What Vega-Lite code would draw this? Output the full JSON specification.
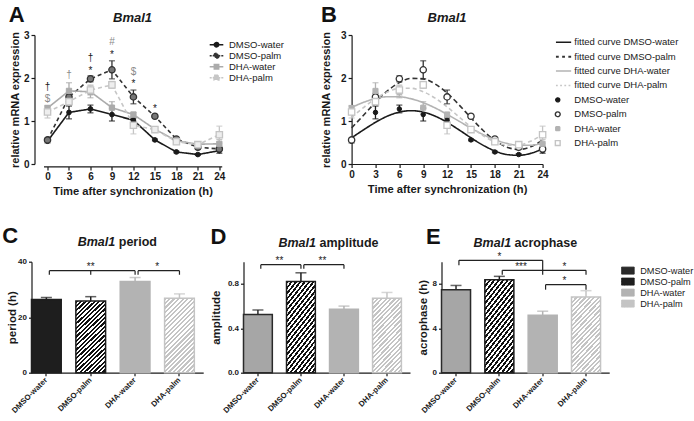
{
"$schema": "https://vega.github.io/schema/vega-lite/v6.json",
"background": "white",
"padding": {"left": 1.5, "top": 4, "right": 0, "bottom": 0},
"params": [
 {"name": "hatchDark", "value": {"gradient": "linear", "x1": 0, "y1": 0, "x2": 0.4828, "y2": 1.2069, "stops": [
{"offset":0,"color":"#111111"},{"offset":0.0217,"color":"#111111"},{"offset":0.0217,"color":"#ffffff"},{"offset":0.0435,"color":"#ffffff"},
{"offset":0.0435,"color":"#111111"},{"offset":0.0652,"color":"#111111"},{"offset":0.0652,"color":"#ffffff"},{"offset":0.087,"color":"#ffffff"},
{"offset":0.087,"color":"#111111"},{"offset":0.1087,"color":"#111111"},{"offset":0.1087,"color":"#ffffff"},{"offset":0.1304,"color":"#ffffff"},
{"offset":0.1304,"color":"#111111"},{"offset":0.1522,"color":"#111111"},{"offset":0.1522,"color":"#ffffff"},{"offset":0.1739,"color":"#ffffff"},
{"offset":0.1739,"color":"#111111"},{"offset":0.1957,"color":"#111111"},{"offset":0.1957,"color":"#ffffff"},{"offset":0.2174,"color":"#ffffff"},
{"offset":0.2174,"color":"#111111"},{"offset":0.2391,"color":"#111111"},{"offset":0.2391,"color":"#ffffff"},{"offset":0.2609,"color":"#ffffff"},
{"offset":0.2609,"color":"#111111"},{"offset":0.2826,"color":"#111111"},{"offset":0.2826,"color":"#ffffff"},{"offset":0.3043,"color":"#ffffff"},
{"offset":0.3043,"color":"#111111"},{"offset":0.3261,"color":"#111111"},{"offset":0.3261,"color":"#ffffff"},{"offset":0.3478,"color":"#ffffff"},
{"offset":0.3478,"color":"#111111"},{"offset":0.3696,"color":"#111111"},{"offset":0.3696,"color":"#ffffff"},{"offset":0.3913,"color":"#ffffff"},
{"offset":0.3913,"color":"#111111"},{"offset":0.413,"color":"#111111"},{"offset":0.413,"color":"#ffffff"},{"offset":0.4348,"color":"#ffffff"},
{"offset":0.4348,"color":"#111111"},{"offset":0.4565,"color":"#111111"},{"offset":0.4565,"color":"#ffffff"},{"offset":0.4783,"color":"#ffffff"},
{"offset":0.4783,"color":"#111111"},{"offset":0.5,"color":"#111111"},{"offset":0.5,"color":"#ffffff"},{"offset":0.5217,"color":"#ffffff"},
{"offset":0.5217,"color":"#111111"},{"offset":0.5435,"color":"#111111"},{"offset":0.5435,"color":"#ffffff"},{"offset":0.5652,"color":"#ffffff"},
{"offset":0.5652,"color":"#111111"},{"offset":0.587,"color":"#111111"},{"offset":0.587,"color":"#ffffff"},{"offset":0.6087,"color":"#ffffff"},
{"offset":0.6087,"color":"#111111"},{"offset":0.6304,"color":"#111111"},{"offset":0.6304,"color":"#ffffff"},{"offset":0.6522,"color":"#ffffff"},
{"offset":0.6522,"color":"#111111"},{"offset":0.6739,"color":"#111111"},{"offset":0.6739,"color":"#ffffff"},{"offset":0.6957,"color":"#ffffff"},
{"offset":0.6957,"color":"#111111"},{"offset":0.7174,"color":"#111111"},{"offset":0.7174,"color":"#ffffff"},{"offset":0.7391,"color":"#ffffff"},
{"offset":0.7391,"color":"#111111"},{"offset":0.7609,"color":"#111111"},{"offset":0.7609,"color":"#ffffff"},{"offset":0.7826,"color":"#ffffff"},
{"offset":0.7826,"color":"#111111"},{"offset":0.8043,"color":"#111111"},{"offset":0.8043,"color":"#ffffff"},{"offset":0.8261,"color":"#ffffff"},
{"offset":0.8261,"color":"#111111"},{"offset":0.8478,"color":"#111111"},{"offset":0.8478,"color":"#ffffff"},{"offset":0.8696,"color":"#ffffff"},
{"offset":0.8696,"color":"#111111"},{"offset":0.8913,"color":"#111111"},{"offset":0.8913,"color":"#ffffff"},{"offset":0.913,"color":"#ffffff"},
{"offset":0.913,"color":"#111111"},{"offset":0.9348,"color":"#111111"},{"offset":0.9348,"color":"#ffffff"},{"offset":0.9565,"color":"#ffffff"},
{"offset":0.9565,"color":"#111111"},{"offset":0.9783,"color":"#111111"},{"offset":0.9783,"color":"#ffffff"},{"offset":1,"color":"#ffffff"}]}},
 {"name": "hatchLight", "value": {"gradient": "linear", "x1": 0, "y1": 0, "x2": 0.4828, "y2": 1.2069, "stops": [
{"offset":0,"color":"#c4c4c4"},{"offset":0.0217,"color":"#c4c4c4"},{"offset":0.0217,"color":"#ffffff"},{"offset":0.0435,"color":"#ffffff"},
{"offset":0.0435,"color":"#c4c4c4"},{"offset":0.0652,"color":"#c4c4c4"},{"offset":0.0652,"color":"#ffffff"},{"offset":0.087,"color":"#ffffff"},
{"offset":0.087,"color":"#c4c4c4"},{"offset":0.1087,"color":"#c4c4c4"},{"offset":0.1087,"color":"#ffffff"},{"offset":0.1304,"color":"#ffffff"},
{"offset":0.1304,"color":"#c4c4c4"},{"offset":0.1522,"color":"#c4c4c4"},{"offset":0.1522,"color":"#ffffff"},{"offset":0.1739,"color":"#ffffff"},
{"offset":0.1739,"color":"#c4c4c4"},{"offset":0.1957,"color":"#c4c4c4"},{"offset":0.1957,"color":"#ffffff"},{"offset":0.2174,"color":"#ffffff"},
{"offset":0.2174,"color":"#c4c4c4"},{"offset":0.2391,"color":"#c4c4c4"},{"offset":0.2391,"color":"#ffffff"},{"offset":0.2609,"color":"#ffffff"},
{"offset":0.2609,"color":"#c4c4c4"},{"offset":0.2826,"color":"#c4c4c4"},{"offset":0.2826,"color":"#ffffff"},{"offset":0.3043,"color":"#ffffff"},
{"offset":0.3043,"color":"#c4c4c4"},{"offset":0.3261,"color":"#c4c4c4"},{"offset":0.3261,"color":"#ffffff"},{"offset":0.3478,"color":"#ffffff"},
{"offset":0.3478,"color":"#c4c4c4"},{"offset":0.3696,"color":"#c4c4c4"},{"offset":0.3696,"color":"#ffffff"},{"offset":0.3913,"color":"#ffffff"},
{"offset":0.3913,"color":"#c4c4c4"},{"offset":0.413,"color":"#c4c4c4"},{"offset":0.413,"color":"#ffffff"},{"offset":0.4348,"color":"#ffffff"},
{"offset":0.4348,"color":"#c4c4c4"},{"offset":0.4565,"color":"#c4c4c4"},{"offset":0.4565,"color":"#ffffff"},{"offset":0.4783,"color":"#ffffff"},
{"offset":0.4783,"color":"#c4c4c4"},{"offset":0.5,"color":"#c4c4c4"},{"offset":0.5,"color":"#ffffff"},{"offset":0.5217,"color":"#ffffff"},
{"offset":0.5217,"color":"#c4c4c4"},{"offset":0.5435,"color":"#c4c4c4"},{"offset":0.5435,"color":"#ffffff"},{"offset":0.5652,"color":"#ffffff"},
{"offset":0.5652,"color":"#c4c4c4"},{"offset":0.587,"color":"#c4c4c4"},{"offset":0.587,"color":"#ffffff"},{"offset":0.6087,"color":"#ffffff"},
{"offset":0.6087,"color":"#c4c4c4"},{"offset":0.6304,"color":"#c4c4c4"},{"offset":0.6304,"color":"#ffffff"},{"offset":0.6522,"color":"#ffffff"},
{"offset":0.6522,"color":"#c4c4c4"},{"offset":0.6739,"color":"#c4c4c4"},{"offset":0.6739,"color":"#ffffff"},{"offset":0.6957,"color":"#ffffff"},
{"offset":0.6957,"color":"#c4c4c4"},{"offset":0.7174,"color":"#c4c4c4"},{"offset":0.7174,"color":"#ffffff"},{"offset":0.7391,"color":"#ffffff"},
{"offset":0.7391,"color":"#c4c4c4"},{"offset":0.7609,"color":"#c4c4c4"},{"offset":0.7609,"color":"#ffffff"},{"offset":0.7826,"color":"#ffffff"},
{"offset":0.7826,"color":"#c4c4c4"},{"offset":0.8043,"color":"#c4c4c4"},{"offset":0.8043,"color":"#ffffff"},{"offset":0.8261,"color":"#ffffff"},
{"offset":0.8261,"color":"#c4c4c4"},{"offset":0.8478,"color":"#c4c4c4"},{"offset":0.8478,"color":"#ffffff"},{"offset":0.8696,"color":"#ffffff"},
{"offset":0.8696,"color":"#c4c4c4"},{"offset":0.8913,"color":"#c4c4c4"},{"offset":0.8913,"color":"#ffffff"},{"offset":0.913,"color":"#ffffff"},
{"offset":0.913,"color":"#c4c4c4"},{"offset":0.9348,"color":"#c4c4c4"},{"offset":0.9348,"color":"#ffffff"},{"offset":0.9565,"color":"#ffffff"},
{"offset":0.9565,"color":"#c4c4c4"},{"offset":0.9783,"color":"#c4c4c4"},{"offset":0.9783,"color":"#ffffff"},{"offset":1,"color":"#ffffff"}]}}
],
"config": {
 "view": {"stroke": null},
 "font": "Liberation Sans",
 "axis": {"grid": false, "domainColor": "#1a1a1a", "tickColor": "#1a1a1a", "labelColor": "#1a1a1a", "titleColor": "#1a1a1a", "labelFont": "Liberation Sans", "titleFont": "Liberation Sans", "labelFontWeight": "bold", "titleFontWeight": "bold", "domainWidth": 1.2, "tickWidth": 1.2, "tickSize": 3.5, "labelFontSize": 10, "titleFontSize": 11.2},
 "legend": {"labelFont": "Liberation Sans", "labelFontSize": 9.5, "labelColor": "#1a1a1a", "padding": 0},
 "title": {"font": "Liberation Sans", "fontSize": 22, "fontWeight": "bold", "color": "#111111", "anchor": "start", "frame": "bounds", "baseline": "alphabetic"}
},
"datasets": {
 "pts": [
  {"t":0,"group":"DMSO-water","mean":0.53,"err":0.04},{"t":3,"group":"DMSO-water","mean":1.2,"err":0.15},{"t":6,"group":"DMSO-water","mean":1.28,"err":0.09},{"t":9,"group":"DMSO-water","mean":1.15,"err":0.15},{"t":12,"group":"DMSO-water","mean":1.02,"err":0.05},{"t":15,"group":"DMSO-water","mean":0.56,"err":0.02},{"t":18,"group":"DMSO-water","mean":0.28,"err":0.02},{"t":21,"group":"DMSO-water","mean":0.22,"err":0.02},{"t":24,"group":"DMSO-water","mean":0.31,"err":0.06},
  {"t":0,"group":"DMSO-palm","mean":0.56,"err":0.04},{"t":3,"group":"DMSO-palm","mean":1.56,"err":0.08},{"t":6,"group":"DMSO-palm","mean":1.98,"err":0.07},{"t":9,"group":"DMSO-palm","mean":2.19,"err":0.21},{"t":12,"group":"DMSO-palm","mean":1.56,"err":0.16},{"t":15,"group":"DMSO-palm","mean":1.11,"err":0.03},{"t":18,"group":"DMSO-palm","mean":0.58,"err":0.03},{"t":21,"group":"DMSO-palm","mean":0.39,"err":0.03},{"t":24,"group":"DMSO-palm","mean":0.35,"err":0.04},
  {"t":0,"group":"DHA-water","mean":1.3,"err":0.06},{"t":3,"group":"DHA-water","mean":1.7,"err":0.19},{"t":6,"group":"DHA-water","mean":1.68,"err":0.14},{"t":9,"group":"DHA-water","mean":1.31,"err":0.14},{"t":12,"group":"DHA-water","mean":1.15,"err":0.05},{"t":15,"group":"DHA-water","mean":0.81,"err":0.04},{"t":18,"group":"DHA-water","mean":0.54,"err":0.05},{"t":21,"group":"DHA-water","mean":0.46,"err":0.03},{"t":24,"group":"DHA-water","mean":0.47,"err":0.1},
  {"t":0,"group":"DHA-palm","mean":1.21,"err":0.14},{"t":3,"group":"DHA-palm","mean":1.45,"err":0.1},{"t":6,"group":"DHA-palm","mean":1.72,"err":0.12},{"t":9,"group":"DHA-palm","mean":1.84,"err":0.08},{"t":12,"group":"DHA-palm","mean":0.9,"err":0.2},{"t":15,"group":"DHA-palm","mean":0.8,"err":0.03},{"t":18,"group":"DHA-palm","mean":0.52,"err":0.04},{"t":21,"group":"DHA-palm","mean":0.45,"err":0.03},{"t":24,"group":"DHA-palm","mean":0.68,"err":0.2}
 ],
 "fit": [
  {"t":0,"group":"fitted curve DMSO-water","v":0.609},{"t":1.5,"group":"fitted curve DMSO-water","v":0.794},{"t":3,"group":"fitted curve DMSO-water","v":0.969},{"t":4.5,"group":"fitted curve DMSO-water","v":1.113},{"t":6,"group":"fitted curve DMSO-water","v":1.207},{"t":7.5,"group":"fitted curve DMSO-water","v":1.24},{"t":9,"group":"fitted curve DMSO-water","v":1.207},{"t":10.5,"group":"fitted curve DMSO-water","v":1.113},{"t":12,"group":"fitted curve DMSO-water","v":0.969},{"t":13.5,"group":"fitted curve DMSO-water","v":0.794},{"t":15,"group":"fitted curve DMSO-water","v":0.609},{"t":16.5,"group":"fitted curve DMSO-water","v":0.439},{"t":18,"group":"fitted curve DMSO-water","v":0.304},{"t":19.5,"group":"fitted curve DMSO-water","v":0.22},{"t":21,"group":"fitted curve DMSO-water","v":0.202},{"t":22.5,"group":"fitted curve DMSO-water","v":0.247},{"t":24,"group":"fitted curve DMSO-water","v":0.352},
  {"t":0,"group":"fitted curve DMSO-palm","v":0.84},{"t":1.5,"group":"fitted curve DMSO-palm","v":1.134},{"t":3,"group":"fitted curve DMSO-palm","v":1.434},{"t":4.5,"group":"fitted curve DMSO-palm","v":1.699},{"t":6,"group":"fitted curve DMSO-palm","v":1.893},{"t":7.5,"group":"fitted curve DMSO-palm","v":1.991},{"t":9,"group":"fitted curve DMSO-palm","v":1.98},{"t":10.5,"group":"fitted curve DMSO-palm","v":1.861},{"t":12,"group":"fitted curve DMSO-palm","v":1.651},{"t":13.5,"group":"fitted curve DMSO-palm","v":1.376},{"t":15,"group":"fitted curve DMSO-palm","v":1.074},{"t":16.5,"group":"fitted curve DMSO-palm","v":0.784},{"t":18,"group":"fitted curve DMSO-palm","v":0.548},{"t":19.5,"group":"fitted curve DMSO-palm","v":0.391},{"t":21,"group":"fitted curve DMSO-palm","v":0.34},{"t":22.5,"group":"fitted curve DMSO-palm","v":0.399},{"t":24,"group":"fitted curve DMSO-palm","v":0.56},
  {"t":0,"group":"fitted curve DHA-water","v":1.313},{"t":1.5,"group":"fitted curve DHA-water","v":1.434},{"t":3,"group":"fitted curve DHA-water","v":1.521},{"t":4.5,"group":"fitted curve DHA-water","v":1.565},{"t":6,"group":"fitted curve DHA-water","v":1.563},{"t":7.5,"group":"fitted curve DHA-water","v":1.516},{"t":9,"group":"fitted curve DHA-water","v":1.427},{"t":10.5,"group":"fitted curve DHA-water","v":1.303},{"t":12,"group":"fitted curve DHA-water","v":1.155},{"t":13.5,"group":"fitted curve DHA-water","v":0.995},{"t":15,"group":"fitted curve DHA-water","v":0.834},{"t":16.5,"group":"fitted curve DHA-water","v":0.687},{"t":18,"group":"fitted curve DHA-water","v":0.565},{"t":19.5,"group":"fitted curve DHA-water","v":0.48},{"t":21,"group":"fitted curve DHA-water","v":0.435},{"t":22.5,"group":"fitted curve DHA-water","v":0.436},{"t":24,"group":"fitted curve DHA-water","v":0.482},
  {"t":0,"group":"fitted curve DHA-palm","v":1.081},{"t":1.5,"group":"fitted curve DHA-palm","v":1.313},{"t":3,"group":"fitted curve DHA-palm","v":1.519},{"t":4.5,"group":"fitted curve DHA-palm","v":1.674},{"t":6,"group":"fitted curve DHA-palm","v":1.758},{"t":7.5,"group":"fitted curve DHA-palm","v":1.761},{"t":9,"group":"fitted curve DHA-palm","v":1.682},{"t":10.5,"group":"fitted curve DHA-palm","v":1.531},{"t":12,"group":"fitted curve DHA-palm","v":1.328},{"t":13.5,"group":"fitted curve DHA-palm","v":1.096},{"t":15,"group":"fitted curve DHA-palm","v":0.864},{"t":16.5,"group":"fitted curve DHA-palm","v":0.663},{"t":18,"group":"fitted curve DHA-palm","v":0.515},{"t":19.5,"group":"fitted curve DHA-palm","v":0.438},{"t":21,"group":"fitted curve DHA-palm","v":0.444},{"t":22.5,"group":"fitted curve DHA-palm","v":0.53},{"t":24,"group":"fitted curve DHA-palm","v":0.688}
 ],
 "ann": [
  {"t":0,"y":1.78,"s":"†","ref":"DMSO"},{"t":0,"y":1.51,"s":"$","ref":"DHA"},{"t":3,"y":2.08,"s":"†","ref":"DHA"},{"t":6,"y":2.47,"s":"†","ref":"DMSO"},{"t":6,"y":2.17,"s":"*","ref":"DMSO"},{"t":9,"y":2.83,"s":"#","ref":"DHA"},{"t":9,"y":2.53,"s":"*","ref":"DMSO"},{"t":12,"y":2.13,"s":"$","ref":"DHA"},{"t":12,"y":1.85,"s":"*","ref":"DMSO"},{"t":15,"y":1.27,"s":"*","ref":"DMSO"}
 ],
 "period": [{"group":"DMSO-water","mean":26.4,"err":0.7},{"group":"DMSO-palm","mean":25.8,"err":1.6},{"group":"DHA-water","mean":32.9,"err":1.4},{"group":"DHA-palm","mean":26.8,"err":1.6}],
 "amplitude": [{"group":"DMSO-water","mean":0.525,"err":0.04},{"group":"DMSO-palm","mean":0.822,"err":0.078},{"group":"DHA-water","mean":0.572,"err":0.028},{"group":"DHA-palm","mean":0.67,"err":0.053}],
 "acrophase": [{"group":"DMSO-water","mean":7.48,"err":0.38},{"group":"DMSO-palm","mean":8.38,"err":0.3},{"group":"DHA-water","mean":5.18,"err":0.36},{"group":"DHA-palm","mean":6.82,"err":0.57}],
 "brC": [{"from":"DMSO-water","to":"DHA-water","mid":"DMSO-palm","y":36.76,"yFrom":35.3,"yTo":35.3},{"from":"DHA-water","to":"DHA-palm","y":36.76,"yFrom":35.3,"yTo":35.3}],
 "lbC": [{"label":"**","y":36.76,"over":"DMSO-palm"},{"label":"*","y":36.76,"after":"DHA-water"}],
 "brD": [{"from":"DMSO-water","to":"DMSO-palm","y":0.973,"yFrom":0.937,"yTo":0.937},{"from":"DMSO-palm","to":"DHA-water","y":0.973,"yFrom":0.937,"yTo":0.937}],
 "lbD": [{"label":"**","y":0.973,"after":"DMSO-water"},{"label":"**","y":0.973,"after":"DMSO-palm"}],
 "brE": [{"from":"DMSO-water","to":"DHA-water","y":10.12,"yFrom":9.67,"yTo":8.83},{"from":"DMSO-palm","to":"DHA-palm","y":9.22,"yFrom":8.83,"yTo":8.83},{"from":"DHA-water","to":"DHA-palm","y":7.93,"yFrom":7.48,"yTo":7.48}],
 "lbE": [{"label":"*","y":10.12,"over":"DMSO-palm"},{"label":"***","y":9.22,"after":"DMSO-palm"},{"label":"*","y":9.22,"after":"DHA-water"},{"label":"*","y":7.93,"after":"DHA-water"}]
},
"columns": 1,
"align": "none",
"spacing": 27.7,
"bounds": "full",
"resolve": {"scale": {"color": "independent", "stroke": "independent", "strokeDash": "independent"}, "legend": {"color": "independent", "stroke": "independent"}},
"concat": [
 {"hconcat": [
  {"width": 1, "height": 1, "data": {"values": [{"k": 0}]}, "mark": {"type": "point", "opacity": 0}},
  {"hconcat": [
  {"width": 178.2, "height": 129,
   "title": {"text": "\u00a0A", "dx": -1, "offset": -15.2},
   "layer": [
    {"encoding": {
      "x": {"field": "t", "type": "quantitative", "scale": {"domain": [-0.56, 24.33], "nice": false, "zero": false}, "axis": {"values": [0,3,6,9,12,15,18,21,24], "offset": 2.4, "title": "Time after synchronization (h)", "labelPadding": 1.5, "titlePadding": 4, "labelFlush": false}},
      "y": {"field": "mean", "type": "quantitative", "scale": {"domain": [0, 3], "nice": false, "zero": false}, "axis": {"values": [0,1,2,3], "offset": 9, "title": "relative mRNA expression", "titleFontSize": 11, "labelPadding": 2, "titlePadding": 2.7}}
     },
     "layer": [
      {"data": {"name": "pts"}, "mark": {"type": "line", "strokeWidth": 1.6},
       "encoding": {
        "stroke": {"field": "group", "type": "nominal", "scale": {"domain": ["DMSO-water","DMSO-palm","DHA-water","DHA-palm"], "range": ["#1a1a1a","#333333","#ababab","#c6c6c6"]},
         "legend": {"title": null, "orient": "none", "legendX": 168, "legendY": 4.7, "symbolSize": 64, "symbolStrokeWidth": 1.5, "labelOffset": 7.5, "rowPadding": -2.9, "labelFontSize": 9.5,
          "encode": {"symbols": {"update": {
           "shape": {"signal": "datum.value === 'DMSO-water' ? 'M-1.7,0H1.7M0.55,0A0.55,0.55,0,1,1,-0.55,0A0.55,0.55,0,1,1,0.55,0Z' : datum.value === 'DMSO-palm' ? 'M-1.7,0H-1.2M-0.95,0H-0.6M0.6,0H0.95M1.2,0H1.7M0.6,0A0.6,0.6,0,1,1,-0.6,0A0.6,0.6,0,1,1,0.6,0Z' : datum.value === 'DHA-water' ? 'M-1.7,0H1.7M-0.55,-0.55H0.55V0.55H-0.55Z' : 'M-1.7,0H-1.2M-0.95,0H-0.6M0.6,0H0.95M1.2,0H1.7M-0.6,-0.6H0.6V0.6H-0.6Z'"},
           "fill": {"signal": "datum.value === 'DMSO-water' ? '#1a1a1a' : datum.value === 'DMSO-palm' ? '#777777' : datum.value === 'DHA-water' ? '#ababab' : '#eeeeee'"},
           "strokeDash": {"value": [1, 0]},
           "opacity": {"value": 1}, "fillOpacity": {"value": 1}}}}}},
        "strokeDash": {"field": "group", "type": "nominal", "scale": {"domain": ["DMSO-water","DMSO-palm","DHA-water","DHA-palm"], "range": [[1,0],[4,3],[1,0],[4,3]]}, "legend": null}
       }},
      {"data": {"name": "pts"}, "mark": {"type": "errorbar", "ticks": {"size": 6}, "thickness": 1.3},
       "encoding": {"yError": {"field": "err"}, "color": {"field": "group", "type": "nominal", "scale": {"domain": ["DMSO-water","DMSO-palm","DHA-water","DHA-palm"], "range": ["#1a1a1a","#333333","#ababab","#c6c6c6"]}, "legend": null}}},
      {"data": {"name": "pts"}, "transform": [{"filter": "datum.group === 'DMSO-water'"}], "mark": {"type": "point", "shape": "circle", "size": 22, "filled": true, "fill": "#1a1a1a", "stroke": "#1a1a1a", "strokeWidth": 1, "opacity": 1}},
      {"data": {"name": "pts"}, "transform": [{"filter": "datum.group === 'DMSO-palm'"}], "mark": {"type": "point", "shape": "circle", "size": 40, "filled": true, "fill": "#777777", "stroke": "#333333", "strokeWidth": 1.3, "opacity": 1}},
      {"data": {"name": "pts"}, "transform": [{"filter": "datum.group === 'DHA-water'"}], "mark": {"type": "point", "shape": "square", "size": 28, "filled": true, "fill": "#ababab", "stroke": "#ababab", "strokeWidth": 1, "opacity": 1}},
      {"data": {"name": "pts"}, "transform": [{"filter": "datum.group === 'DHA-palm'"}], "mark": {"type": "point", "shape": "square", "size": 40, "filled": true, "fill": "#eeeeee", "stroke": "#c4c4c4", "strokeWidth": 1.3, "opacity": 1}},
      {"data": {"name": "ann"}, "transform": [{"filter": "datum.ref === 'DMSO'"}], "mark": {"type": "text", "fontSize": 10, "color": "#1a1a1a", "baseline": "middle"},
       "encoding": {"y": {"field": "y", "type": "quantitative", "scale": {"domain": [0, 3], "nice": false, "zero": false}}, "text": {"field": "s"}}},
      {"data": {"name": "ann"}, "transform": [{"filter": "datum.ref === 'DHA'"}], "mark": {"type": "text", "fontSize": 10, "color": "#8a8a8a", "baseline": "middle"},
       "encoding": {"y": {"field": "y", "type": "quantitative", "scale": {"domain": [0, 3], "nice": false, "zero": false}}, "text": {"field": "s"}}}
     ]},
    {"data": {"values": [{"gene": "Bmal1"}]}, "mark": {"type": "text", "fontSize": 13, "fontWeight": "bold", "fontStyle": "italic", "baseline": "middle", "color": "#1a1a1a"},
     "encoding": {"y": {"datum": 3.4, "type": "quantitative", "scale": {"domain": [0, 3], "nice": false, "zero": false}}, "text": {"field": "gene"}}}
   ]},
  {"width": 191, "height": 129,
   "title": {"text": "B", "dx": 0.5, "offset": -15.2},
   "layer": [
    {"encoding": {
      "x": {"field": "t", "type": "quantitative", "scale": {"domain": [0, 24], "nice": false, "zero": false}, "axis": {"values": [0,3,6,9,12,15,18,21,24], "title": "Time after synchronization (h)", "labelPadding": 1.5, "titlePadding": 4, "labelFlush": false}},
      "y": {"field": "mean", "type": "quantitative", "scale": {"domain": [0, 3], "nice": false, "zero": false}, "axis": {"values": [0,1,2,3], "title": "relative mRNA expression", "titleFontSize": 11, "labelPadding": 2, "titlePadding": 9}}
     },
     "layer": [
      {"data": {"name": "fit"}, "mark": {"type": "line", "interpolate": "monotone", "strokeWidth": 1.6},
       "encoding": {
        "y": {"field": "v", "type": "quantitative", "scale": {"domain": [0, 3], "nice": false, "zero": false}},
        "stroke": {"field": "group", "type": "nominal", "scale": {"domain": ["fitted curve DMSO-water","fitted curve DMSO-palm","fitted curve DHA-water","fitted curve DHA-palm","DMSO-water","DMSO-palm","DHA-water","DHA-palm"], "range": ["#1a1a1a","#333333","#b3b3b3","#c6c6c6","#1a1a1a","#333333","#b3b3b3","#c4c4c4"]},
         "legend": {"title": null, "orient": "none", "legendX": 207.2, "legendY": 2.5, "symbolSize": 64, "symbolStrokeWidth": 1.5, "labelOffset": 6, "rowPadding": 3.4, "labelFontSize": 9.5,
          "encode": {"symbols": {"update": {
           "shape": {"signal": "datum.value === 'fitted curve DMSO-palm' ? 'M-1.9,0H-1.2M-0.35,0H0.35M1.2,0H1.9' : datum.value === 'fitted curve DHA-palm' ? 'M-1.9,0H-1.45M-0.85,0H-0.4M0.2,0H0.65M1.25,0H1.7' : datum.value === 'DMSO-water' ? 'M-0.95,0A0.5,0.5,0,1,1,-1.95,0A0.5,0.5,0,1,1,-0.95,0Z' : datum.value === 'DMSO-palm' ? 'M-0.85,0A0.6,0.6,0,1,1,-2.05,0A0.6,0.6,0,1,1,-0.85,0Z' : datum.value === 'DHA-water' ? 'M-1.95,-0.5H-0.95V0.5H-1.95Z' : datum.value === 'DHA-palm' ? 'M-2.05,-0.6H-0.85V0.6H-2.05Z' : 'M-1.9,0H1.9'"},
           "fill": {"signal": "datum.value === 'DMSO-water' ? '#1a1a1a' : datum.value === 'DHA-water' ? '#b3b3b3' : (datum.value === 'DMSO-palm' || datum.value === 'DHA-palm') ? '#ffffff' : 'transparent'"},
           "strokeWidth": {"signal": "datum.value === 'fitted curve DMSO-palm' ? 2 : 1.4"},
           "strokeDash": {"value": [1, 0]},
           "opacity": {"value": 1}, "fillOpacity": {"value": 1}}}}}},
        "strokeDash": {"field": "group", "type": "nominal", "scale": {"domain": ["fitted curve DMSO-water","fitted curve DMSO-palm","fitted curve DHA-water","fitted curve DHA-palm"], "range": [[1,0],[5,3],[1,0],[4,3]]}, "legend": null}
       }},
      {"data": {"name": "pts"}, "mark": {"type": "errorbar", "ticks": {"size": 6}, "thickness": 1.3},
       "encoding": {"yError": {"field": "err"}, "color": {"field": "group", "type": "nominal", "scale": {"domain": ["DMSO-water","DMSO-palm","DHA-water","DHA-palm"], "range": ["#1a1a1a","#333333","#b3b3b3","#c4c4c4"]}, "legend": null}}},
      {"data": {"name": "pts"}, "transform": [{"filter": "datum.group === 'DMSO-water'"}], "mark": {"type": "point", "shape": "circle", "size": 20, "filled": true, "fill": "#1a1a1a", "stroke": "#1a1a1a", "strokeWidth": 1, "opacity": 1}},
      {"data": {"name": "pts"}, "transform": [{"filter": "datum.group === 'DMSO-palm'"}], "mark": {"type": "point", "shape": "circle", "size": 40, "filled": true, "fill": "#ffffff", "stroke": "#333333", "strokeWidth": 1.3, "opacity": 1}},
      {"data": {"name": "pts"}, "transform": [{"filter": "datum.group === 'DHA-water'"}], "mark": {"type": "point", "shape": "square", "size": 26, "filled": true, "fill": "#b3b3b3", "stroke": "#b3b3b3", "strokeWidth": 1, "opacity": 1}},
      {"data": {"name": "pts"}, "transform": [{"filter": "datum.group === 'DHA-palm'"}], "mark": {"type": "point", "shape": "square", "size": 40, "filled": true, "fill": "#ffffff", "stroke": "#c4c4c4", "strokeWidth": 1.3, "opacity": 1}}
     ]},
    {"data": {"values": [{"gene": "Bmal1"}]}, "mark": {"type": "text", "fontSize": 13, "fontWeight": "bold", "fontStyle": "italic", "baseline": "middle", "color": "#1a1a1a"},
     "encoding": {"y": {"datum": 3.4, "type": "quantitative", "scale": {"domain": [0, 3], "nice": false, "zero": false}}, "text": {"field": "gene"}}}
   ]}
  ], "spacing": 35.1, "bounds": "full",
  "resolve": {"scale": {"color": "independent", "stroke": "independent", "strokeDash": "independent"}, "legend": {"color": "independent", "stroke": "independent"}}}
 ], "spacing": 11, "bounds": "flush",
 "resolve": {"scale": {"color": "independent", "stroke": "independent", "strokeDash": "independent"}, "legend": {"color": "independent", "stroke": "independent"}}},
 {"hconcat": [
  {"width": 171.7, "height": 111,
   "title": {"text": "C", "dx": -4.3, "offset": -12},
   "layer": [
    {"data": {"name": "period"},
     "encoding": {
      "x": {"field": "group", "type": "nominal", "scale": {"domain": ["DMSO-water","DMSO-palm","DHA-water","DHA-palm"], "paddingInner": 0.33, "paddingOuter": 0.1, "align": 0}, "axis": {"title": null, "labelAngle": -45, "labelAlign": "right", "labelBaseline": "middle", "labelFontSize": 7.8, "tickSize": 3, "labelPadding": 3, "labelOverlap": false}},
      "y": {"field": "mean", "type": "quantitative", "scale": {"domain": [0, 40], "nice": false, "zero": true}, "axis": {"values": [0,10,20,30,40], "title": "period (h)", "titleFontSize": 11.5, "labelFontSize": 8, "tickSize": 3, "titlePadding": 0, "labelPadding": 2}}
     },
     "layer": [
      {"mark": {"type": "errorbar", "ticks": {"size": 11}, "thickness": 1.5}, "encoding": {"yError": {"field": "err"}, "color": {"field": "group", "type": "nominal", "scale": {"domain": ["DMSO-water","DMSO-palm","DHA-water","DHA-palm"], "range": ["#1e1e1e","#1e1e1e","#b3b3b3","#c4c4c4"]}, "legend": null}}},
      {"transform": [{"filter": "datum.group === 'DMSO-water'"}], "mark": {"type": "bar", "fill": "#1e1e1e", "stroke": "#1e1e1e", "strokeWidth": 1.5}},
      {"transform": [{"filter": "datum.group === 'DMSO-palm'"}], "mark": {"type": "bar", "fill": {"expr": "hatchDark"}, "stroke": "#1e1e1e", "strokeWidth": 1.5}},
      {"transform": [{"filter": "datum.group === 'DHA-water'"}], "mark": {"type": "bar", "fill": "#b3b3b3", "stroke": "#b3b3b3", "strokeWidth": 1.5}},
      {"transform": [{"filter": "datum.group === 'DHA-palm'"}], "mark": {"type": "bar", "fill": {"expr": "hatchLight"}, "stroke": "#c4c4c4", "strokeWidth": 1.5}}
     ]},
    {"data": {"name": "brC"}, "mark": {"type": "rule", "color": "#222222", "strokeWidth": 1.2},
     "encoding": {"x": {"field": "from", "type": "nominal", "bandPosition": 0.6, "scale": {"domain": ["DMSO-water","DMSO-palm","DHA-water","DHA-palm"], "paddingInner": 0.33, "paddingOuter": 0.1, "align": 0}}, "x2": {"field": "to"}, "y": {"field": "y", "type": "quantitative", "scale": {"domain": [0, 40], "nice": false}}}},
    {"data": {"name": "brC"}, "mark": {"type": "rule", "color": "#222222", "strokeWidth": 1.2},
     "encoding": {"x": {"field": "from", "type": "nominal", "bandPosition": 0.6, "scale": {"domain": ["DMSO-water","DMSO-palm","DHA-water","DHA-palm"], "paddingInner": 0.33, "paddingOuter": 0.1, "align": 0}}, "y": {"field": "y", "type": "quantitative", "scale": {"domain": [0, 40], "nice": false}}, "y2": {"field": "yFrom"}}},
    {"data": {"name": "brC"}, "mark": {"type": "rule", "color": "#222222", "strokeWidth": 1.2},
     "encoding": {"x": {"field": "to", "type": "nominal", "bandPosition": 0.5, "scale": {"domain": ["DMSO-water","DMSO-palm","DHA-water","DHA-palm"], "paddingInner": 0.33, "paddingOuter": 0.1, "align": 0}}, "y": {"field": "y", "type": "quantitative", "scale": {"domain": [0, 40], "nice": false}}, "y2": {"field": "yTo"}}},
    {"data": {"name": "brC"}, "transform": [{"filter": "isValid(datum.mid)"}], "mark": {"type": "rule", "color": "#222222", "strokeWidth": 1.2},
     "encoding": {"x": {"field": "mid", "type": "nominal", "bandPosition": 0.5, "scale": {"domain": ["DMSO-water","DMSO-palm","DHA-water","DHA-palm"], "paddingInner": 0.33, "paddingOuter": 0.1, "align": 0}}, "y": {"field": "y", "type": "quantitative", "scale": {"domain": [0, 40], "nice": false}}, "y2": {"field": "yFrom"}}},
    {"data": {"name": "lbC"}, "transform": [{"filter": "isValid(datum.over)"}], "mark": {"type": "text", "fontSize": 10, "color": "#222222", "baseline": "alphabetic", "dy": -0.5},
     "encoding": {"x": {"field": "over", "type": "nominal", "bandPosition": 0.5, "scale": {"domain": ["DMSO-water","DMSO-palm","DHA-water","DHA-palm"], "paddingInner": 0.33, "paddingOuter": 0.1, "align": 0}}, "y": {"field": "y", "type": "quantitative", "scale": {"domain": [0, 40], "nice": false}}, "text": {"field": "label"}}},
    {"data": {"name": "lbC"}, "transform": [{"filter": "isValid(datum.after)"}], "mark": {"type": "text", "fontSize": 10, "color": "#222222", "baseline": "alphabetic", "dy": -0.5},
     "encoding": {"x": {"field": "after", "type": "nominal", "bandPosition": 1.246, "scale": {"domain": ["DMSO-water","DMSO-palm","DHA-water","DHA-palm"], "paddingInner": 0.33, "paddingOuter": 0.1, "align": 0}}, "y": {"field": "y", "type": "quantitative", "scale": {"domain": [0, 40], "nice": false}}, "text": {"field": "label"}}},
    {"data": {"values": [{"gene": "Bmal1"}]}, "mark": {"type": "text", "align": "right", "dx": -2.1, "fontSize": 12.5, "fontWeight": "bold", "fontStyle": "italic", "baseline": "middle", "color": "#1a1a1a"},
     "encoding": {"y": {"datum": 47, "type": "quantitative", "scale": {"domain": [0, 40], "nice": false}}, "text": {"field": "gene"}}},
    {"data": {"values": [{"measure": "period"}]}, "mark": {"type": "text", "align": "left", "dx": 1.4, "fontSize": 12.5, "fontWeight": "bold", "baseline": "middle", "color": "#1a1a1a"},
     "encoding": {"y": {"datum": 47, "type": "quantitative", "scale": {"domain": [0, 40], "nice": false}}, "text": {"field": "measure"}}}
   ]},
  {"width": 166.5, "height": 111,
   "title": {"text": "D", "dx": -0.5, "offset": -12},
   "layer": [
    {"data": {"name": "amplitude"},
     "encoding": {
      "x": {"field": "group", "type": "nominal", "scale": {"domain": ["DMSO-water","DMSO-palm","DHA-water","DHA-palm"], "paddingInner": 0.33, "paddingOuter": 0.1, "align": 0}, "axis": {"title": null, "labelAngle": -45, "labelAlign": "right", "labelBaseline": "middle", "labelFontSize": 7.8, "tickSize": 3, "labelPadding": 3, "labelOverlap": false}},
      "y": {"field": "mean", "type": "quantitative", "scale": {"domain": [0, 1], "nice": false, "zero": true}, "axis": {"values": [0,0.2,0.4,0.6,0.8,1], "format": ".1f", "title": "amplitude", "titleFontSize": 11.5, "labelFontSize": 8, "tickSize": 3, "titlePadding": 5.5, "labelPadding": 2}}
     },
     "layer": [
      {"mark": {"type": "errorbar", "ticks": {"size": 11}, "thickness": 1.5}, "encoding": {"yError": {"field": "err"}, "color": {"field": "group", "type": "nominal", "scale": {"domain": ["DMSO-water","DMSO-palm","DHA-water","DHA-palm"], "range": ["#2a2a2a","#1e1e1e","#b3b3b3","#c4c4c4"]}, "legend": null}}},
      {"transform": [{"filter": "datum.group === 'DMSO-water'"}], "mark": {"type": "bar", "fill": "#a6a6a6", "stroke": "#2a2a2a", "strokeWidth": 1.5}},
      {"transform": [{"filter": "datum.group === 'DMSO-palm'"}], "mark": {"type": "bar", "fill": {"expr": "hatchDark"}, "stroke": "#1e1e1e", "strokeWidth": 1.5}},
      {"transform": [{"filter": "datum.group === 'DHA-water'"}], "mark": {"type": "bar", "fill": "#b3b3b3", "stroke": "#b3b3b3", "strokeWidth": 1.5}},
      {"transform": [{"filter": "datum.group === 'DHA-palm'"}], "mark": {"type": "bar", "fill": {"expr": "hatchLight"}, "stroke": "#c4c4c4", "strokeWidth": 1.5}}
     ]},
    {"data": {"name": "brD"}, "mark": {"type": "rule", "color": "#222222", "strokeWidth": 1.2},
     "encoding": {"x": {"field": "from", "type": "nominal", "bandPosition": 0.6, "scale": {"domain": ["DMSO-water","DMSO-palm","DHA-water","DHA-palm"], "paddingInner": 0.33, "paddingOuter": 0.1, "align": 0}}, "x2": {"field": "to"}, "y": {"field": "y", "type": "quantitative", "scale": {"domain": [0, 1], "nice": false}}}},
    {"data": {"name": "brD"}, "mark": {"type": "rule", "color": "#222222", "strokeWidth": 1.2},
     "encoding": {"x": {"field": "from", "type": "nominal", "bandPosition": 0.6, "scale": {"domain": ["DMSO-water","DMSO-palm","DHA-water","DHA-palm"], "paddingInner": 0.33, "paddingOuter": 0.1, "align": 0}}, "y": {"field": "y", "type": "quantitative", "scale": {"domain": [0, 1], "nice": false}}, "y2": {"field": "yFrom"}}},
    {"data": {"name": "brD"}, "mark": {"type": "rule", "color": "#222222", "strokeWidth": 1.2},
     "encoding": {"x": {"field": "to", "type": "nominal", "bandPosition": 0.5, "scale": {"domain": ["DMSO-water","DMSO-palm","DHA-water","DHA-palm"], "paddingInner": 0.33, "paddingOuter": 0.1, "align": 0}}, "y": {"field": "y", "type": "quantitative", "scale": {"domain": [0, 1], "nice": false}}, "y2": {"field": "yTo"}}},
    {"data": {"name": "lbD"}, "mark": {"type": "text", "fontSize": 10, "color": "#222222", "baseline": "alphabetic", "dy": -0.5},
     "encoding": {"x": {"field": "after", "type": "nominal", "bandPosition": 1.246, "scale": {"domain": ["DMSO-water","DMSO-palm","DHA-water","DHA-palm"], "paddingInner": 0.33, "paddingOuter": 0.1, "align": 0}}, "y": {"field": "y", "type": "quantitative", "scale": {"domain": [0, 1], "nice": false}}, "text": {"field": "label"}}},
    {"data": {"values": [{"gene": "Bmal1"}]}, "mark": {"type": "text", "align": "right", "dx": -10.75, "fontSize": 12.5, "fontWeight": "bold", "fontStyle": "italic", "baseline": "middle", "color": "#1a1a1a"},
     "encoding": {"y": {"datum": 1.171, "type": "quantitative", "scale": {"domain": [0, 1], "nice": false}}, "text": {"field": "gene"}}},
    {"data": {"values": [{"measure": "amplitude"}]}, "mark": {"type": "text", "align": "left", "dx": -7.25, "fontSize": 12.5, "fontWeight": "bold", "baseline": "middle", "color": "#1a1a1a"},
     "encoding": {"y": {"datum": 1.171, "type": "quantitative", "scale": {"domain": [0, 1], "nice": false}}, "text": {"field": "measure"}}}
   ]},
  {"width": 167.7, "height": 111,
   "title": {"text": "E", "dx": 8.7, "offset": -12},
   "layer": [
    {"data": {"name": "acrophase"},
     "encoding": {
      "x": {"field": "group", "type": "nominal", "scale": {"domain": ["DMSO-water","DMSO-palm","DHA-water","DHA-palm"], "paddingInner": 0.33, "paddingOuter": 0.1, "align": 0}, "axis": {"title": null, "labelAngle": -45, "labelAlign": "right", "labelBaseline": "middle", "labelFontSize": 7.8, "tickSize": 3, "labelPadding": 3, "labelOverlap": false}},
      "y": {"field": "mean", "type": "quantitative", "scale": {"domain": [0, 10], "nice": false, "zero": true}, "axis": {"values": [0,2,4,6,8,10], "title": "acrophase (h)", "titleFontSize": 11.5, "labelFontSize": 8, "tickSize": 3, "titlePadding": 3.7, "labelPadding": 2}}
     },
     "layer": [
      {"mark": {"type": "errorbar", "ticks": {"size": 11}, "thickness": 1.5}, "encoding": {"yError": {"field": "err"}, "color": {"field": "group", "type": "nominal", "scale": {"domain": ["DMSO-water","DMSO-palm","DHA-water","DHA-palm"], "range": ["#2a2a2a","#1e1e1e","#b3b3b3","#c4c4c4"]},
        "legend": {"title": null, "orient": "none", "legendX": 181.8, "legendY": 4.3, "symbolSize": 49, "symbolStrokeWidth": 1, "labelOffset": 7.7, "rowPadding": -2.8, "labelFontSize": 9.2,
         "encode": {"symbols": {"update": {
          "shape": {"signal": "(datum.value === 'DMSO-palm' || datum.value === 'DHA-palm') ? 'M-1.8,-1H1.8V1H-1.8ZM-1.8,0.1L-0.7,-1M-1.8,1L0.2,-1M-0.9,1L1.1,-1M0,1L1.8,-0.8M0.9,1L1.8,0.1' : 'M-1.8,-1H1.8V1H-1.8Z'"},
          "fill": {"signal": "datum.value === 'DMSO-water' ? '#1a1a1a' : datum.value === 'DHA-water' ? '#b3b3b3' : '#ffffff'"},
          "strokeDash": {"value": [1, 0]},
          "opacity": {"value": 1}, "fillOpacity": {"value": 1}}}}}}}},
      {"transform": [{"filter": "datum.group === 'DMSO-water'"}], "mark": {"type": "bar", "fill": "#a6a6a6", "stroke": "#2a2a2a", "strokeWidth": 1.5}},
      {"transform": [{"filter": "datum.group === 'DMSO-palm'"}], "mark": {"type": "bar", "fill": {"expr": "hatchDark"}, "stroke": "#1e1e1e", "strokeWidth": 1.5}},
      {"transform": [{"filter": "datum.group === 'DHA-water'"}], "mark": {"type": "bar", "fill": "#b3b3b3", "stroke": "#b3b3b3", "strokeWidth": 1.5}},
      {"transform": [{"filter": "datum.group === 'DHA-palm'"}], "mark": {"type": "bar", "fill": {"expr": "hatchLight"}, "stroke": "#c4c4c4", "strokeWidth": 1.5}}
     ]},
    {"data": {"name": "brE"}, "mark": {"type": "rule", "color": "#222222", "strokeWidth": 1.2},
     "encoding": {"x": {"field": "from", "type": "nominal", "bandPosition": 0.6, "scale": {"domain": ["DMSO-water","DMSO-palm","DHA-water","DHA-palm"], "paddingInner": 0.33, "paddingOuter": 0.1, "align": 0}}, "x2": {"field": "to"}, "y": {"field": "y", "type": "quantitative", "scale": {"domain": [0, 10], "nice": false}}}},
    {"data": {"name": "brE"}, "mark": {"type": "rule", "color": "#222222", "strokeWidth": 1.2},
     "encoding": {"x": {"field": "from", "type": "nominal", "bandPosition": 0.6, "scale": {"domain": ["DMSO-water","DMSO-palm","DHA-water","DHA-palm"], "paddingInner": 0.33, "paddingOuter": 0.1, "align": 0}}, "y": {"field": "y", "type": "quantitative", "scale": {"domain": [0, 10], "nice": false}}, "y2": {"field": "yFrom"}}},
    {"data": {"name": "brE"}, "mark": {"type": "rule", "color": "#222222", "strokeWidth": 1.2},
     "encoding": {"x": {"field": "to", "type": "nominal", "bandPosition": 0.5, "scale": {"domain": ["DMSO-water","DMSO-palm","DHA-water","DHA-palm"], "paddingInner": 0.33, "paddingOuter": 0.1, "align": 0}}, "y": {"field": "y", "type": "quantitative", "scale": {"domain": [0, 10], "nice": false}}, "y2": {"field": "yTo"}}},
    {"data": {"name": "lbE"}, "transform": [{"filter": "isValid(datum.over)"}], "mark": {"type": "text", "fontSize": 10, "color": "#222222", "baseline": "alphabetic", "dy": -0.5},
     "encoding": {"x": {"field": "over", "type": "nominal", "bandPosition": 0.5, "scale": {"domain": ["DMSO-water","DMSO-palm","DHA-water","DHA-palm"], "paddingInner": 0.33, "paddingOuter": 0.1, "align": 0}}, "y": {"field": "y", "type": "quantitative", "scale": {"domain": [0, 10], "nice": false}}, "text": {"field": "label"}}},
    {"data": {"name": "lbE"}, "transform": [{"filter": "isValid(datum.after)"}], "mark": {"type": "text", "fontSize": 10, "color": "#222222", "baseline": "alphabetic", "dy": -0.5},
     "encoding": {"x": {"field": "after", "type": "nominal", "bandPosition": 1.246, "scale": {"domain": ["DMSO-water","DMSO-palm","DHA-water","DHA-palm"], "paddingInner": 0.33, "paddingOuter": 0.1, "align": 0}}, "y": {"field": "y", "type": "quantitative", "scale": {"domain": [0, 10], "nice": false}}, "text": {"field": "label"}}},
    {"data": {"values": [{"gene": "Bmal1"}]}, "mark": {"type": "text", "align": "right", "dx": -14.25, "fontSize": 12.5, "fontWeight": "bold", "fontStyle": "italic", "baseline": "middle", "color": "#1a1a1a"},
     "encoding": {"y": {"datum": 11.71, "type": "quantitative", "scale": {"domain": [0, 10], "nice": false}}, "text": {"field": "gene"}}},
    {"data": {"values": [{"measure": "acrophase"}]}, "mark": {"type": "text", "align": "left", "dx": -10.75, "fontSize": 12.5, "fontWeight": "bold", "baseline": "middle", "color": "#1a1a1a"},
     "encoding": {"y": {"datum": 11.71, "type": "quantitative", "scale": {"domain": [0, 10], "nice": false}}, "text": {"field": "measure"}}}
   ]}
 ], "spacing": 6, "bounds": "full",
 "resolve": {"scale": {"color": "independent", "stroke": "independent", "strokeDash": "independent"}, "legend": {"color": "independent", "stroke": "independent"}}}
]
}
